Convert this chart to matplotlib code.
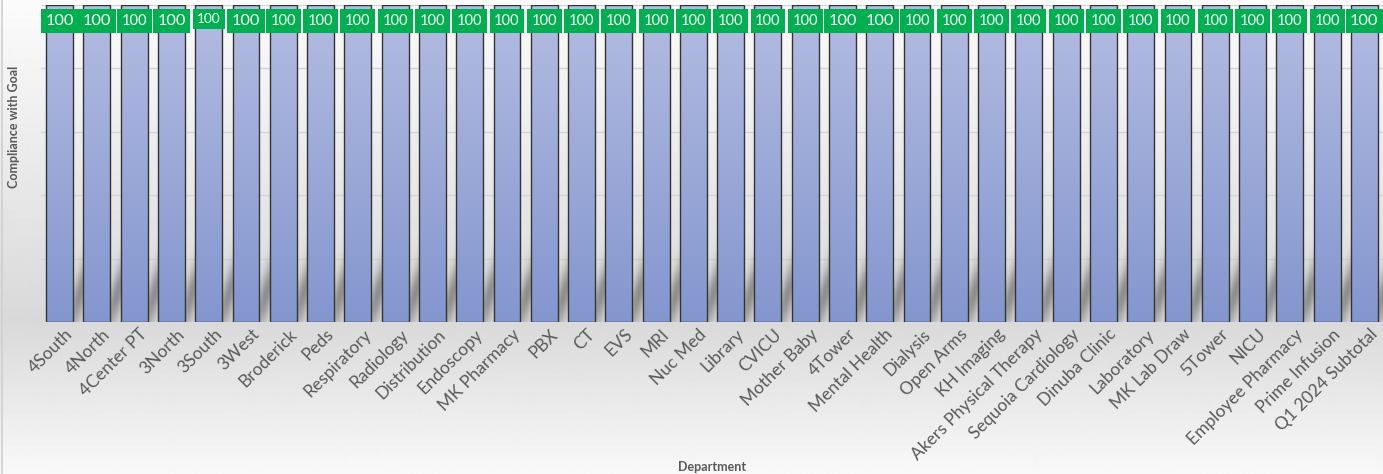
import numpy as np
import matplotlib
matplotlib.use("Agg")
import matplotlib.pyplot as plt
import matplotlib.transforms as mtransforms
from matplotlib.lines import Line2D

departments = [
    "4South", "4North", "4Center PT", "3North", "3South", "3West", "Broderick",
    "Peds", "Respiratory", "Radiology", "Distribution", "Endoscopy",
    "MK Pharmacy", "PBX", "CT", "EVS", "MRI", "Nuc Med", "Library", "CVICU",
    "Mother Baby", "4Tower", "Mental Health", "Dialysis", "Open Arms",
    "KH Imaging", "Akers Physical Therapy", "Sequoia Cardiology",
    "Dinuba Clinic", "Laboratory", "MK Lab Draw", "5Tower", "NICU",
    "Employee Pharmacy", "Prime Infusion", "Q1 2024 Subtotal",
]
compliance = [
    100, 100, 100, 100, 100, 100, 100, 100, 100, 100, 100, 100,
    100, 100, 100, 100, 100, 100, 100, 100, 100, 100, 100, 100,
    100, 100, 100, 100, 100, 100, 100, 100, 100, 100, 100, 100,
]
y_ticks = [0, 20, 40, 60, 80, 100]

# label boxes drawn a little larger / smaller than the rest
big_labels = {"4South", "4North", "3North", "3West", "4Tower",
              "Mental Health", "Q1 2024 Subtotal"}
small_labels = {"3South"}

W, H = 1383, 474
FONT = "Lato"
TEXT_GREY = "#595959"

fig = plt.figure(figsize=(W / 100, H / 100), dpi=100)
fig.patch.set_facecolor("white")

# chart-area background: light at top, darker near the axis, lighter again below
bg = fig.add_axes([0, 0, 1, 1], zorder=-10)
bg.set_axis_off()
rows = np.arange(H)
shade = np.interp(rows, [0, 230, 320, H], [0.985, 0.89, 0.85, 0.975])
bg.imshow(np.tile(shade[:, None], (1, 4)), cmap="gray", vmin=0, vmax=1,
          aspect="auto", extent=(0, 1, 0, 1), interpolation="bilinear")
bg.set_xlim(0, 1)
bg.set_ylim(0, 1)
bg.add_line(Line2D([0.0015, 0.0015], [0, 1], color="#cfcfcf", lw=1.2,
                   transform=bg.transAxes))

ax = fig.add_axes([41 / W, (H - 322) / H, 1 - 41 / W, (322 - 5) / H])
ax.patch.set_alpha(0)

n = len(departments)
x = np.arange(n)
bar_w = 0.72
bars = ax.bar(x, compliance, width=bar_w, facecolor="none",
              edgecolor="#333333", linewidth=1.0, zorder=4)

# vertical gradient fill for each bar
top_c = np.array([180, 189, 226]) / 255
bot_c = np.array([131, 150, 206]) / 255
t = np.linspace(0, 1, 256)[:, None]
grad = (top_c[None, :] * (1 - t) + bot_c[None, :] * t)[:, None, :]
for b in bars:
    ax.imshow(grad, extent=(b.get_x(), b.get_x() + b.get_width(), 0, b.get_height()),
              aspect="auto", zorder=3, interpolation="bilinear")

# soft diagonal shadow cast by each bar near the floor
xs = np.linspace(-0.5, n - 0.5, n * 45)
ys = np.linspace(0, 32, 160)
XX, YY = np.meshgrid(xs, ys)
dark = np.zeros_like(XX)
for b in bars:
    right = b.get_x() + b.get_width()
    centre_line = right + 0.02 * YY
    dark += np.exp(-0.5 * ((XX - centre_line) / 0.14) ** 2)
env = np.exp(-0.5 * ((YY - 9.0) / 8.0) ** 2)
alpha = np.clip(dark * env * 0.6, 0, 1)
shadow = np.zeros(XX.shape + (4,))
shadow[..., :3] = 0.35
shadow[..., 3] = alpha
ax.imshow(shadow, extent=(-0.5, n - 0.5, 0, 32), origin="lower",
          aspect="auto", zorder=2, interpolation="bilinear")

ax.set_xlim(-0.5, n - 0.5)
ax.set_ylim(0, 100)
ax.set_yticks(y_ticks)
ax.set_yticklabels([])
ax.tick_params(axis="y", length=0)
ax.yaxis.grid(True, color="#d4d4d4", lw=1.0, zorder=1)
ax.set_axisbelow(True)
for s in ax.spines.values():
    s.set_visible(False)

ax.set_xticks(x)
ax.set_xticklabels(departments, rotation=45, ha="right", rotation_mode="anchor",
                   fontsize=12.5, color=TEXT_GREY, family=FONT)
ax.tick_params(axis="x", length=0, pad=3)
shift = mtransforms.ScaledTranslation(5 / 100, 0, fig.dpi_scale_trans)
for lbl in ax.get_xticklabels():
    lbl.set_transform(lbl.get_transform() + shift)

# green value labels
for name, b, v in zip(departments, bars, compliance):
    size, pad, dy = 10.5, 0.32, -11.5
    if name in big_labels:
        size, pad = 11.8, 0.28
    elif name in small_labels:
        size, pad, dy = 9.8, 0.3, -10
    ax.annotate(f"{v:g}", xy=(b.get_x() + b.get_width() / 2, v),
                xytext=(0, dy), textcoords="offset points",
                ha="center", va="center", color="white", fontsize=size,
                family=FONT, zorder=6, annotation_clip=False,
                bbox=dict(boxstyle=f"square,pad={pad}", fc="#00b050", ec="none"))

fig.text(14 / W, 1 - 127 / H, "Compliance with Goal", rotation=90,
         ha="center", va="center", fontsize=9, fontweight="bold",
         color=TEXT_GREY, family=FONT)
fig.text(712 / W, 1 - 467 / H, "Department", ha="center", va="center",
         fontsize=9, fontweight="bold", color=TEXT_GREY, family=FONT)

fig.savefig("out.png", dpi=100)
